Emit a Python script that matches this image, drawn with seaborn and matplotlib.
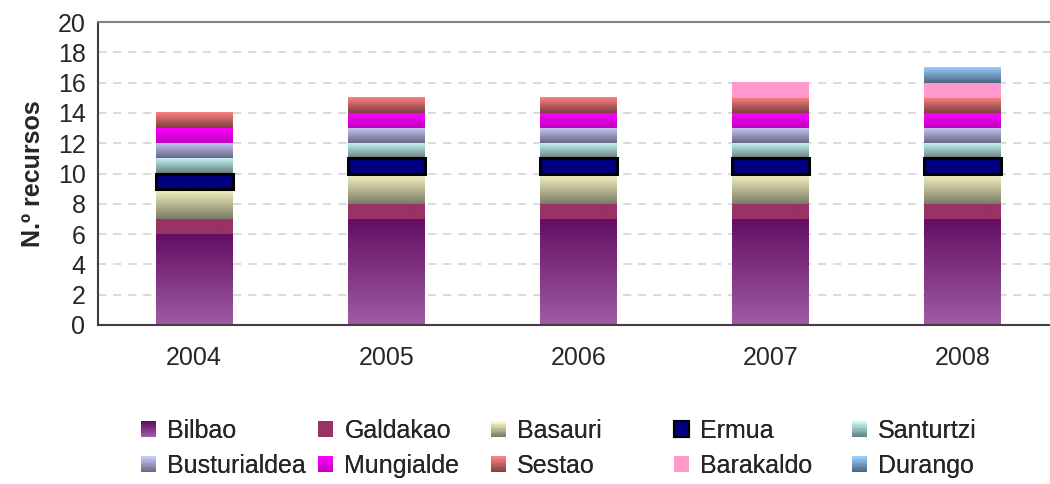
import numpy as np
import pandas as pd
import matplotlib
matplotlib.use('Agg')
import matplotlib.pyplot as plt
import matplotlib.colors as mcolors
from matplotlib.patches import Patch, Rectangle
from matplotlib.legend_handler import HandlerBase
import seaborn as sns

years = ['2004', '2005', '2006', '2007', '2008']
series = ['Bilbao', 'Galdakao', 'Basauri', 'Ermua', 'Santurtzi',
          'Busturialdea', 'Mungialde', 'Sestao', 'Barakaldo', 'Durango']
bilbao = [6, 7, 7, 7, 7]
galdakao = [1, 1, 1, 1, 1]
basauri = [2, 2, 2, 2, 2]
ermua = [1, 1, 1, 1, 1]
santurtzi = [1, 1, 1, 1, 1]
busturialdea = [1, 1, 1, 1, 1]
mungialde = [1, 1, 1, 1, 1]
sestao = [1, 1, 1, 1, 1]
barakaldo = [0, 0, 0, 1, 1]
durango = [0, 0, 0, 0, 1]
values = [bilbao, galdakao, basauri, ermua, santurtzi,
          busturialdea, mungialde, sestao, barakaldo, durango]

# (top colour, bottom colour) of each segment
grads = [('#640e64', '#9d5ca3'), ('#993366', '#993366'), ('#fbf9c8', '#7c7c64'),
         ('#000080', '#000080'), ('#c8f8f8', '#688282'), ('#c8c8f8', '#686884'),
         ('#ff00ff', '#c000c0'), ('#ff8080', '#7c4040'), ('#ff99cc', '#ff99cc'),
         ('#99ccff', '#4c6680')]

FS = 18


def ramp(top, bot, n=64):
    a = np.array(mcolors.to_rgb(top))
    b = np.array(mcolors.to_rgb(bot))
    t = np.linspace(0, 1, n)[:, None]
    return a * (1 - t) + b * t


class GradHandler(HandlerBase):
    def __init__(self, top, bot, edge=False):
        super().__init__()
        self.top, self.bot, self.edge = top, bot, edge

    def create_artists(self, legend, orig_handle, xdescent, ydescent,
                       width, height, fontsize, trans):
        n = 12
        cols = ramp(self.top, self.bot, n)
        arts = []
        for k in range(n):
            y = -ydescent + height * (1 - (k + 1) / n)
            arts.append(Rectangle((-xdescent, y), width, height / n, facecolor=cols[k],
                                  edgecolor='none', transform=trans))
        if self.edge:
            arts.append(Rectangle((-xdescent, -ydescent), width, height, fill=False,
                                  edgecolor='black', linewidth=1.5, transform=trans))
        return arts


sns.set_style('white')
plt.rcParams['font.family'] = ['Liberation Sans', 'DejaVu Sans']

fig = plt.figure(figsize=(10.5, 4.84), dpi=100)
ax = fig.add_axes([98 / 1050, 1 - 325 / 484, 961 / 1050, 303 / 484])

cum = np.cumsum(np.array(values), axis=0)
for i in reversed(range(len(series))):
    df = pd.DataFrame({'year': years, 'total': cum[i]})
    sns.barplot(data=df, x='year', y='total', color=grads[i][0], width=0.4,
                ax=ax, saturation=1, linewidth=0, zorder=1)

# overlay vertical gradients on each stacked segment
patches = ax.patches[:len(years)]
for i in range(len(series)):
    img = ramp(*grads[i])[:, None, :]
    for j, p in enumerate(patches):
        v = values[i][j]
        if v == 0:
            continue
        b = cum[i][j] - v
        x0 = p.get_x()
        w = p.get_width()
        ax.imshow(img, extent=(x0, x0 + w, b, b + v), aspect='auto',
                  origin='upper', zorder=2, interpolation='bilinear')
        if series[i] == 'Ermua':
            ax.add_patch(Rectangle((x0, b), w, v, fill=False, edgecolor='black',
                                   linewidth=2.2, zorder=3))

ax.set_xlim(-0.5, len(years) - 0.5)
ax.set_ylim(0, 20)
ax.set_yticks(range(0, 21, 2))
ax.set_xticks(range(len(years)))
ax.set_xticklabels(years)
ax.set_xticks(np.arange(0.5, len(years) - 0.5, 1), minor=True)
ax.tick_params(axis='x', which='major', length=0, pad=15, labelsize=FS)
ax.tick_params(axis='x', which='minor', length=7, width=1.2, color='#404040', direction='out')
ax.tick_params(axis='y', length=7, width=1.2, color='#404040', direction='out', labelsize=FS, pad=2)
ax.set_xlabel('')
ax.set_ylabel('N.º recursos', fontsize=FS, fontweight='bold', labelpad=9)

for y in range(2, 20, 2):
    ax.axhline(y, color='#d4d4d4', linestyle=(0, (5, 4)), linewidth=1.2, zorder=0)

for s in ['left', 'bottom']:
    ax.spines[s].set_color('#404040')
    ax.spines[s].set_linewidth(1.5)
ax.spines['top'].set_color('#808080')
ax.spines['top'].set_linewidth(1.5)
ax.spines['right'].set_visible(False)

# legend: 5 fixed-width columns, 2 rows
handles = [Patch(label=s) for s in series]
hmap = {h: GradHandler(a, b, edge=(s == 'Ermua')) for h, s, (a, b) in zip(handles, series, grads)}
col_x = [141, 318, 491, 674, 852]
for c, x in enumerate(col_x):
    leg = fig.legend([handles[c], handles[c + 5]], [series[c], series[c + 5]],
                     handler_map=hmap,
                     loc='upper left', bbox_to_anchor=(x / 1050, 1 - 419 / 484),
                     frameon=False, fontsize=FS, handlelength=0.6, handleheight=0.6,
                     handletextpad=0.45, labelspacing=0.45, borderaxespad=0, borderpad=0)
    fig.add_artist(leg)

fig.savefig('out.png', dpi=100)
